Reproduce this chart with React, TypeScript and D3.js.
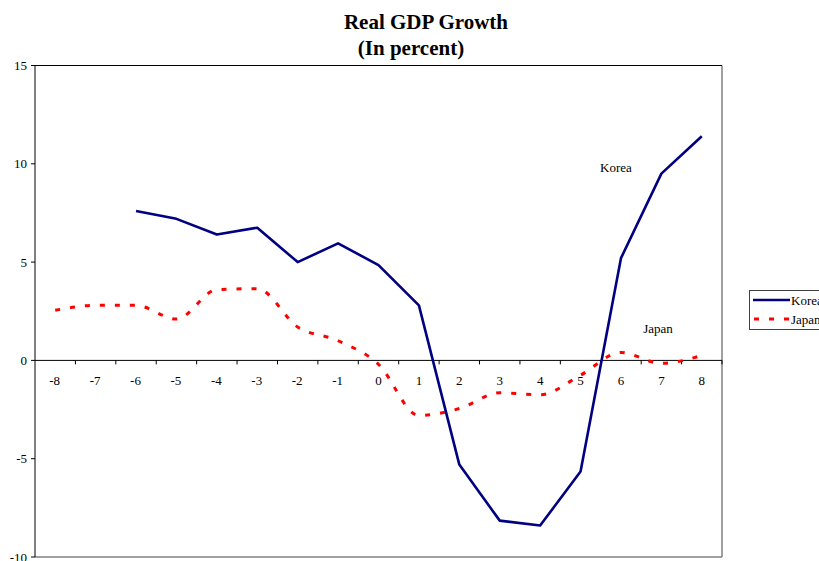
import React from "react";
import * as d3 from "d3";

// Quarters relative to the crisis (t = 0)
const periods: number[] = [-8, -7, -6, -5, -4, -3, -2, -1, 0, 1, 2, 3, 4, 5, 6, 7, 8];

// Real GDP growth, percent (null = no observation)
const korea: (number | null)[] = [null, null, 7.6, 7.2, 6.4, 6.75, 5.0, 5.95, 4.85, 2.8, -5.3, -8.15, -8.4, -5.65, 5.2, 9.5, 11.4];
const japan: (number | null)[] = [2.55, 2.8, 2.8, 2.1, 3.6, 3.65, 1.7, 1.0, -0.2, -2.8, -2.45, -1.65, -1.75, -0.75, 0.4, -0.15, 0.25];

const yTicks: number[] = [-10, -5, 0, 5, 10, 15];

const W = 819;
const H = 561;
const plot = { left: 35, right: 722, top: 65.5, bottom: 557 };
const serif = "'Liberation Serif', 'Times New Roman', serif";

export default function App() {
  const x = d3
    .scaleBand<number>()
    .domain(periods)
    .range([plot.left, plot.right])
    .paddingInner(0)
    .paddingOuter(0);
  const y = d3.scaleLinear().domain([-10, 15]).range([plot.bottom, plot.top]);
  const cx = (p: number) => (x(p) as number) + x.bandwidth() / 2;

  const koreaLine = d3
    .line<number>()
    .defined((_, i) => korea[i] !== null)
    .x((p) => cx(p))
    .y((_, i) => y(korea[i] as number));

  const japanLine = d3
    .line<number>()
    .defined((_, i) => japan[i] !== null)
    .x((p) => cx(p))
    .y((_, i) => y(japan[i] as number))
    .curve(d3.curveMonotoneX);

  const y0 = y(0);
  // category separators on the zero line
  const catTicks = periods.slice(1).map((p) => x(p) as number).concat([plot.right]);

  return (
    <svg
      width={W}
      height={H}
      style={{ position: "absolute", left: 0, top: 0, display: "block", background: "#fff" }}
      fontFamily={serif}
    >
      {/* title */}
      <text x={426} y={29} textAnchor="middle" fontSize={21} fontWeight="bold">
        Real GDP Growth
      </text>
      <text x={411} y={55} textAnchor="middle" fontSize={21} fontWeight="bold">
        (In percent)
      </text>

      {/* plot frame */}
      <line x1={plot.right} x2={plot.right} y1={plot.top} y2={plot.bottom} stroke="#808080" strokeWidth={1.5} />
      <line x1={plot.left} x2={plot.right} y1={plot.bottom} y2={plot.bottom} stroke="#808080" strokeWidth={1.5} />
      <line x1={plot.left} x2={plot.right} y1={plot.top} y2={plot.top} stroke="#000" strokeWidth={1} />

      {/* value axis */}
      <line x1={plot.left} x2={plot.left} y1={plot.top} y2={plot.bottom} stroke="#000" strokeWidth={1} />
      {yTicks.map((t) => (
        <g key={t}>
          <line x1={plot.left - 4} x2={plot.left} y1={y(t)} y2={y(t)} stroke="#000" />
          <text x={27} y={y(t) + 4.5} textAnchor="end" fontSize={13}>
            {t}
          </text>
        </g>
      ))}

      {/* category axis along zero */}
      <line x1={plot.left} x2={plot.right} y1={y0} y2={y0} stroke="#000" strokeWidth={1} />
      {catTicks.map((tx, i) => (
        <line key={i} x1={tx} x2={tx} y1={y0} y2={y0 + 4} stroke="#000" />
      ))}
      {periods.map((p) => (
        <text key={p} x={cx(p) + (p < 0 ? -0.5 : 0)} y={y0 + 25} textAnchor="middle" fontSize={13}>
          {p}
        </text>
      ))}

      {/* series */}
      <path d={japanLine(periods) || ""} fill="none" stroke="#ff0000" strokeWidth={3} strokeDasharray="5,10" />
      <path d={koreaLine(periods) || ""} fill="none" stroke="#000080" strokeWidth={2.6} strokeLinejoin="round" />

      {/* in-plot labels */}
      <text x={616} y={172} textAnchor="middle" fontSize={13}>
        Korea
      </text>
      <text x={658} y={333} textAnchor="middle" fontSize={13}>
        Japan
      </text>

      {/* legend */}
      <g>
        <rect x={749.5} y={290.5} width={110} height={39} fill="#fff" stroke="#404040" strokeWidth={1} />
        <line x1={753} x2={790} y1={300} y2={300} stroke="#000080" strokeWidth={2.6} />
        <text x={791} y={304.5} fontSize={13}>
          Korea
        </text>
        <line x1={753} x2={790} y1={319} y2={319} stroke="#ff0000" strokeWidth={3} strokeDasharray="5,10" strokeDashoffset={-1} />
        <text x={791} y={323.5} fontSize={13}>
          Japan
        </text>
      </g>
    </svg>
  );
}
